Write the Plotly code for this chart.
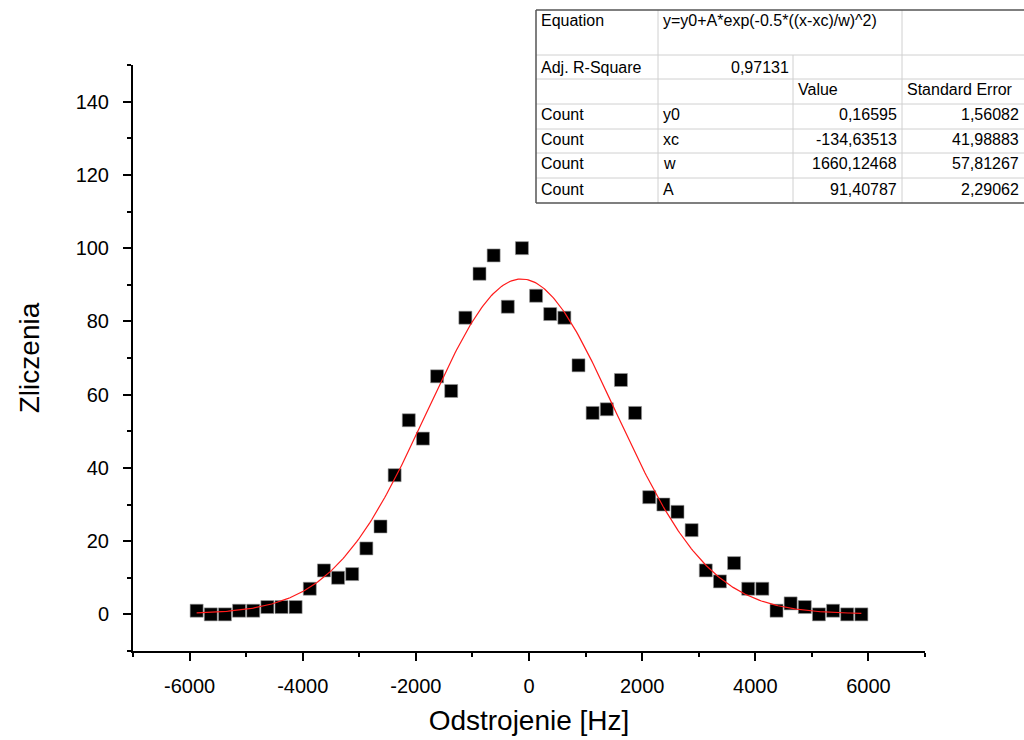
import numpy as np
import plotly.graph_objects as go

# ---------------- data ----------------
detuning_hz = [-5875, -5625, -5375, -5125, -4875, -4625, -4375, -4125, -3875, -3625,
               -3375, -3125, -2875, -2625, -2375, -2125, -1875, -1625, -1375, -1125,
               -875, -625, -375, -125, 125, 375, 625, 875, 1125, 1375,
               1625, 1875, 2125, 2375, 2625, 2875, 3125, 3375, 3625, 3875,
               4125, 4375, 4625, 4875, 5125, 5375, 5625, 5875]
counts = [1, 0, 0, 1, 1, 2, 2, 2, 7, 12,
          10, 11, 18, 24, 38, 53, 48, 65, 61, 81,
          93, 98, 84, 100, 87, 82, 81, 68, 55, 56,
          64, 55, 32, 30, 28, 23, 12, 9, 14, 7,
          7, 1, 3, 2, 0, 1, 0, 0]

# fit parameters (as reported in the table)
fit_y0 = 0.16595
fit_xc = -134.63513
fit_w = 1660.12468
fit_A = 91.40787

param_names = ["y0", "xc", "w", "A"]
param_values = ["0,16595", "-134,63513", "1660,12468", "91,40787"]
param_errors = ["1,56082", "41,98883", "57,81267", "2,29062"]
adj_r2 = "0,97131"
equation = "y=y0+A*exp(-0.5*((x-xc)/w)^2)"

x_ticks = [-6000, -4000, -2000, 0, 2000, 4000, 6000]
y_ticks = [0, 20, 40, 60, 80, 100, 120, 140]

# ---------------- figure ----------------
FONT = "Liberation Sans, Arial, sans-serif"
L, R, T, B = 133, 925, 65, 651  # plot area in pixels
PW, PH = R - L, B - T


def px(xp):
    return (xp - L) / PW


def py(yp):
    return (B - yp) / PH


fit_x = np.linspace(detuning_hz[0], detuning_hz[-1], 400)
fit_y = fit_y0 + fit_A * np.exp(-0.5 * ((fit_x - fit_xc) / fit_w) ** 2)

fig = go.Figure()
fig.add_trace(go.Scatter(
    x=detuning_hz, y=counts, mode="markers",
    marker=dict(symbol="square", size=13, color="black",
                line=dict(color="#999999", width=0.6)),
    showlegend=False, name="Count"))
fig.add_trace(go.Scatter(
    x=fit_x, y=fit_y, mode="lines",
    line=dict(color="#ff1a1a", width=1.2),
    showlegend=False, name="Fit"))

axis_common = dict(
    showline=True, linecolor="black", linewidth=2,
    showgrid=False, zeroline=False, automargin=False,
    ticks="outside", ticklen=8, tickwidth=2, tickcolor="black",
    tickfont=dict(family=FONT, size=20, color="black"),
    mirror=False,
)

fig.update_layout(
    width=1024, height=740,
    margin=dict(l=L, r=1024 - R, t=T, b=740 - B),
    paper_bgcolor="white", plot_bgcolor="white",
    font=dict(family=FONT, color="black"),
    xaxis=dict(range=[-7000, 7000], tickvals=x_ticks,
               ticktext=[str(v) for v in x_ticks],
               ticklabelstandoff=8,
               minor=dict(dtick=1000, ticks="outside", ticklen=4, tickwidth=2, tickcolor="black", tick0=-7000),
               title=dict(text="Odstrojenie [Hz]", font=dict(family=FONT, size=28), standoff=14),
               **axis_common),
    yaxis=dict(range=[-10, 150], tickvals=y_ticks,
               ticklabelstandoff=10,
               minor=dict(dtick=10, ticks="outside", ticklen=4, tickwidth=2, tickcolor="black", tick0=-10),
               title=dict(text="Zliczenia", font=dict(family=FONT, size=28), standoff=28),
               **axis_common),
)

# ---------------- fit-results table ----------------
tx0, tx1 = 536, 1030
ty0, ty1 = 10, 203
rows = [10, 55, 79, 104, 129, 153, 178, 203]
shapes = []
shapes.append(dict(type="rect", xref="paper", yref="paper",
                   x0=px(tx0), x1=px(tx1), y0=py(ty1), y1=py(ty0),
                   fillcolor="white", line=dict(width=0), layer="above"))
grid = dict(color="#d0d0d0", width=1)
# horizontal inner lines
for r in rows[1:-1]:
    shapes.append(dict(type="line", xref="paper", yref="paper",
                       x0=px(tx0), x1=px(tx1), y0=py(r), y1=py(r), line=grid, layer="above"))
# vertical inner lines
shapes.append(dict(type="line", xref="paper", yref="paper", x0=px(658), x1=px(658),
                   y0=py(ty1), y1=py(ty0), line=grid, layer="above"))
shapes.append(dict(type="line", xref="paper", yref="paper", x0=px(793), x1=px(793),
                   y0=py(ty1), y1=py(55), line=grid, layer="above"))
shapes.append(dict(type="line", xref="paper", yref="paper", x0=px(902), x1=px(902),
                   y0=py(ty1), y1=py(ty0), line=grid, layer="above"))
# outer border
border = dict(color="#555555", width=1.5)
shapes.append(dict(type="line", xref="paper", yref="paper", x0=px(tx0), x1=px(tx1),
                   y0=py(ty0), y1=py(ty0), line=border, layer="above"))
shapes.append(dict(type="line", xref="paper", yref="paper", x0=px(tx0), x1=px(tx1),
                   y0=py(ty1), y1=py(ty1), line=border, layer="above"))
shapes.append(dict(type="line", xref="paper", yref="paper", x0=px(tx0), x1=px(tx0),
                   y0=py(ty1), y1=py(ty0), line=border, layer="above"))

annotations = []
tfont = dict(family=FONT, size=16, color="black")


def cell(text, xp, yp, align="left"):
    annotations.append(dict(text=text, xref="paper", yref="paper",
                            x=px(xp), y=py(yp), showarrow=False,
                            xanchor=align, yanchor="middle", font=tfont))


cell("Equation", 539, 20)
cell(equation, 661, 20)
cell("Adj. R-Square", 539, 67)
cell(adj_r2, 791, 67, "right")
cell("Value", 796, 90)
cell("Standard Error", 905, 90)
row_centers = [114, 139, 164, 189]
for yc, n, v, e in zip(row_centers, param_names, param_values, param_errors):
    cell("Count", 539, yc)
    cell(n, 661, yc)
    cell(v, 899, yc, "right")
    cell(e, 1021, yc, "right")

fig.update_layout(shapes=shapes, annotations=annotations)

fig.write_html("out.html")
